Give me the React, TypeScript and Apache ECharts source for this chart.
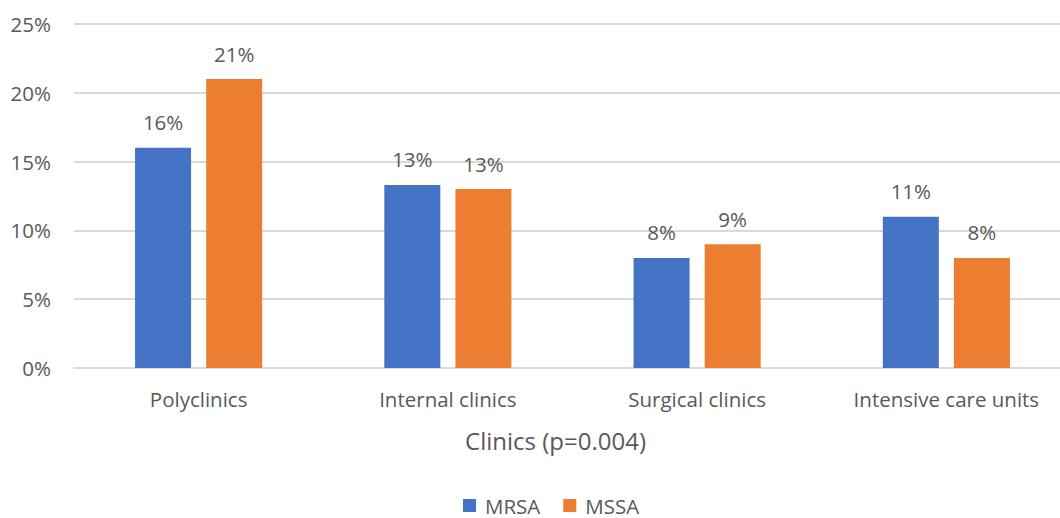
import React, { useEffect, useRef } from "react";
import * as echarts from "echarts";

const categories = ["Polyclinics", "Internal clinics", "Surgical clinics", "Intensive care units"];
const mrsa = [16, 13.3, 8, 11];
const mssa = [21, 13, 9, 8];
const yTicks = [0, 5, 10, 15, 20, 25];

const FONT = "'Open Sans', 'Noto Sans', sans-serif";
const TEXT = "#595959";
const SIZE = 20.5;

export default function App() {
  const ref = useRef<HTMLDivElement>(null);

  useEffect(() => {
    if (!ref.current) return;
    const chart = echarts.init(ref.current, undefined, { renderer: "svg" });
    const label = {
      show: true,
      position: "top",
      distance: 15,
      color: TEXT,
      fontFamily: FONT,
      fontSize: SIZE,
      formatter: (p: any) => Math.round(p.value) + "%",
    };
    chart.setOption({
      animation: false,
      textStyle: { fontFamily: FONT },
      // the plot runs slightly past the right edge, as the last category is clipped
      grid: { left: 74, width: 997, top: 24, height: 344, outerBoundsMode: "none" },
      legend: {
        top: 490,
        left: 458,
        itemWidth: 13,
        itemHeight: 13,
        itemGap: 23,
        icon: "rect",
        textStyle: { color: TEXT, fontSize: SIZE, fontFamily: FONT, padding: [0, 0, 0, 4] },
        data: ["MRSA", "MSSA"],
      },
      xAxis: {
        type: "category",
        data: categories,
        name: "Clinics (p=0.004)",
        nameLocation: "middle",
        nameGap: 60,
        nameTextStyle: { color: TEXT, fontSize: 24, fontFamily: FONT, padding: [0, 34, 0, 0] },
        axisLine: { lineStyle: { color: "#d9d9d9", width: 2 } },
        axisTick: { show: false },
        axisLabel: { color: TEXT, fontSize: SIZE, fontFamily: FONT, margin: 20 },
      },
      yAxis: {
        type: "value",
        min: yTicks[0],
        max: yTicks[yTicks.length - 1],
        interval: 5,
        axisLine: { show: false },
        axisTick: { show: false },
        splitLine: { lineStyle: { color: "#d9d9d9", width: 2 } },
        axisLabel: {
          color: TEXT,
          fontSize: SIZE,
          fontFamily: FONT,
          margin: 23,
          formatter: (v: number) => v + "%",
        },
      },
      series: [
        {
          name: "MRSA",
          type: "bar",
          data: mrsa,
          barWidth: 56,
          barGap: "27%",
          itemStyle: { color: "#4472C4" },
          label,
        },
        {
          name: "MSSA",
          type: "bar",
          data: mssa,
          barWidth: 56,
          barGap: "27%",
          itemStyle: { color: "#ED7D31" },
          label,
        },
      ],
    });
    return () => chart.dispose();
  }, []);

  return (
    <div
      ref={ref}
      style={{ position: "fixed", left: 0, top: 0, width: 1060, height: 518, background: "#fff" }}
    />
  );
}
